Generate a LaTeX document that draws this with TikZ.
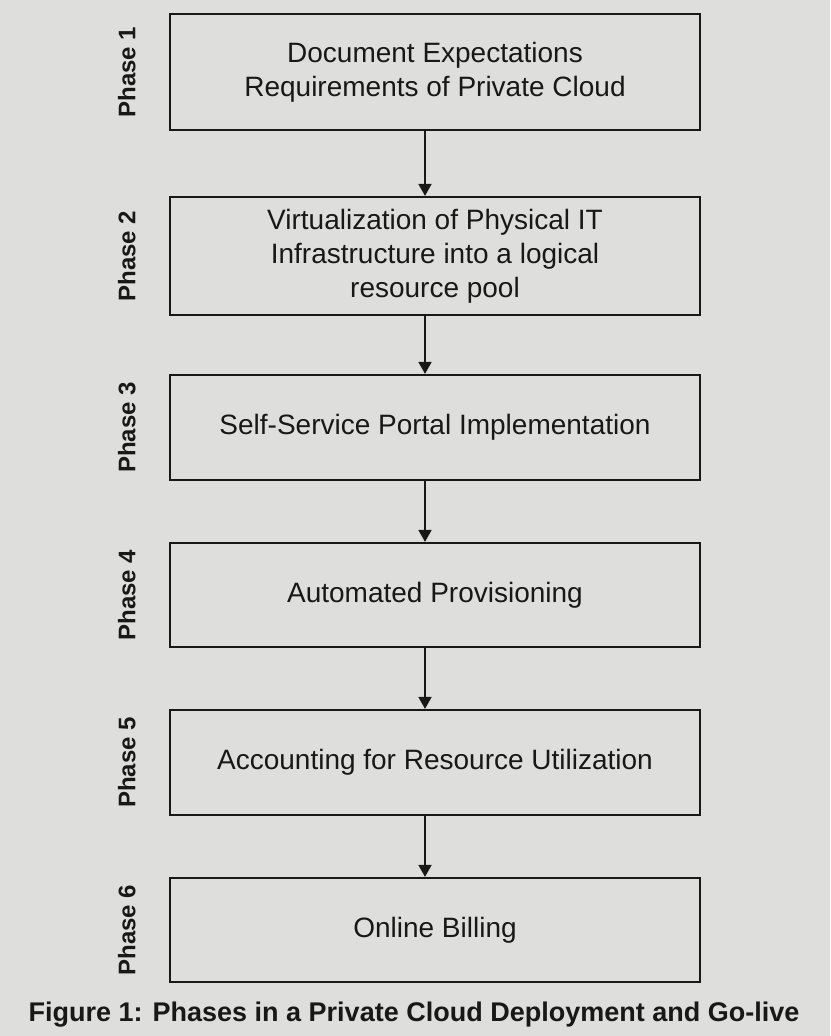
\documentclass[tikz,border=0pt]{standalone}
\usepackage{fontspec}
\setmainfont{Liberation Sans}
\usepackage{tikz}
\usetikzlibrary{positioning}
\usetikzlibrary{arrows.meta}
\definecolor{paper}{RGB}{222,222,220}
\definecolor{ink}{RGB}{24,24,24}
\tikzset{
  phase_box/.style = {draw=ink, line width=2.2pt, align=center, text=ink,
    minimum width=530pt, inner sep=0pt, font=\fontsize{28}{34}\selectfont},
  phase_lbl/.style = {rotate=90, text=ink, inner sep=0pt,
    font=\bfseries\fontsize{24}{28}\selectfont},% label beside each box
}

\begin{document}
\begin{tikzpicture}[x=1pt,y=-1pt,>={Triangle[length=12pt,width=13pt]}]
\useasboundingbox[fill=paper] (0,0) rectangle (830,1036);
\node [phase_box, minimum height=116pt] (p_1) at (435,72) {Document Expectations\\Requirements of Private Cloud};
\node [phase_box, minimum height=118pt, below=64.8pt of p_1] (p_2) {Virtualization of Physical IT\\Infrastructure into a logical\\resource pool};
\node [phase_box, minimum height=105pt, below=57.8pt of p_2] (p_3) {Self-Service Portal Implementation};
\node [phase_box, minimum height=104pt, below=60.8pt of p_3] (p_4) {Automated Provisioning};
\node [phase_box, minimum height=105pt, below=60.8pt of p_4] (p_5) {Accounting for Resource Utilization};
\node [phase_box, minimum height=104pt, below=60.8pt of p_5] (p_6) {Online Billing};
\foreach \i in {1,...,6}
  \node [phase_lbl] (l_\i) at ([xshift=-42pt]p_\i.west) {Phase \i};
\foreach \i/\j in {1/2,2/3,3/4,4/5,5/6}
  \draw [->, draw=ink, fill=ink, line width=1.8pt] ([xshift=-10pt]p_\i.south) -- ([xshift=-10pt]p_\j.north);
%caption under the chart
\node [anchor=base, text=ink, font=\bfseries\fontsize{27}{32}\selectfont] (cap) at (414,1021) {Figure 1: Phases in a Private Cloud Deployment and Go-live};
\end{tikzpicture}
\end{document}
